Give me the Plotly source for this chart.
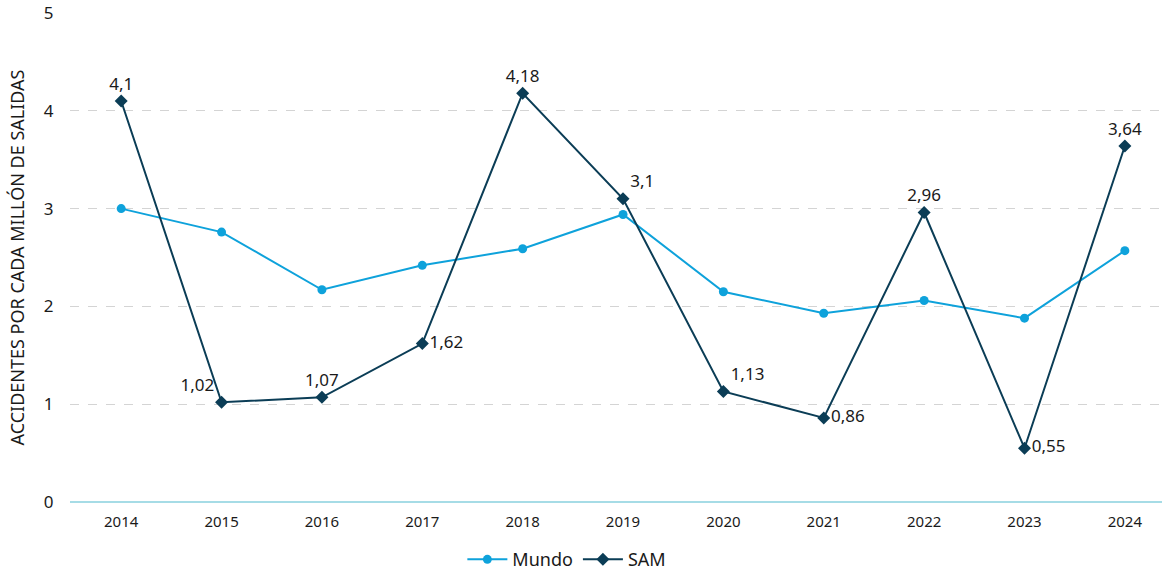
import plotly.graph_objects as go

years = [2014, 2015, 2016, 2017, 2018, 2019, 2020, 2021, 2022, 2023, 2024]
mundo = [3.0, 2.76, 2.17, 2.42, 2.59, 2.94, 2.15, 1.93, 2.06, 1.88, 2.57]
sam = [4.1, 1.02, 1.07, 1.62, 4.18, 3.1, 1.13, 0.86, 2.96, 0.55, 3.64]
sam_labels = ["4,1", "1,02", "1,07", "1,62", "4,18", "3,1", "1,13", "0,86", "2,96", "0,55", "3,64"]
sam_pos = ["top center", "top left", "top center", "middle right", "top center",
           "top right", "top right", "middle right", "top center", "middle right", "top center"]

FONT = "Noto Sans"
fig = go.Figure()
fig.add_trace(go.Scatter(
    x=years, y=mundo, name="Mundo", mode="lines+markers",
    line=dict(color="#0ea2db", width=2),
    marker=dict(symbol="circle", size=9, color="#0ea2db"),
))
fig.add_trace(go.Scatter(
    x=years, y=sam, name="SAM", mode="lines+markers+text",
    line=dict(color="#0b3d56", width=2),
    marker=dict(symbol="diamond", size=10, color="#0b3d56"),
    text=sam_labels, textposition=sam_pos,
    textfont=dict(family=FONT, size=17, color="#1a1a1a"),
))
fig.update_layout(
    width=1165, height=574,
    margin=dict(l=70, r=3, t=13, b=72, autoexpand=False),
    paper_bgcolor="white", plot_bgcolor="white",
    font=dict(family=FONT, size=14, color="#1a1a1a"),
    showlegend=True,
    legend=dict(orientation="h", x=0.455, xanchor="center", y=-0.08, yanchor="top",
                font=dict(size=18), itemwidth=40),
    xaxis=dict(range=[2013.49, 2024.37], tickmode="array", tickvals=years,
               ticktext=[str(y) for y in years], showgrid=False, zeroline=False,
               showline=False, tickfont=dict(size=15), ticks="outside", ticklen=6,
               tickcolor="rgba(0,0,0,0)", automargin=False),
    yaxis=dict(range=[0, 5], dtick=1, showgrid=True, gridcolor="#d4d4d4", griddash="dash",
               gridwidth=1, zeroline=True, zerolinecolor="#a6dce6", zerolinewidth=2,
               tickfont=dict(size=17), ticks="outside", ticklen=12,
               tickcolor="rgba(0,0,0,0)", automargin=False, ticklabeloverflow="allow",
               title=dict(text="ACCIDENTES POR CADA MILLÓN DE SALIDAS", font=dict(size=18), standoff=14)),
)
fig.write_html("out.html", config={"displayModeBar": False},
               post_script="document.body.style.margin='0';")
